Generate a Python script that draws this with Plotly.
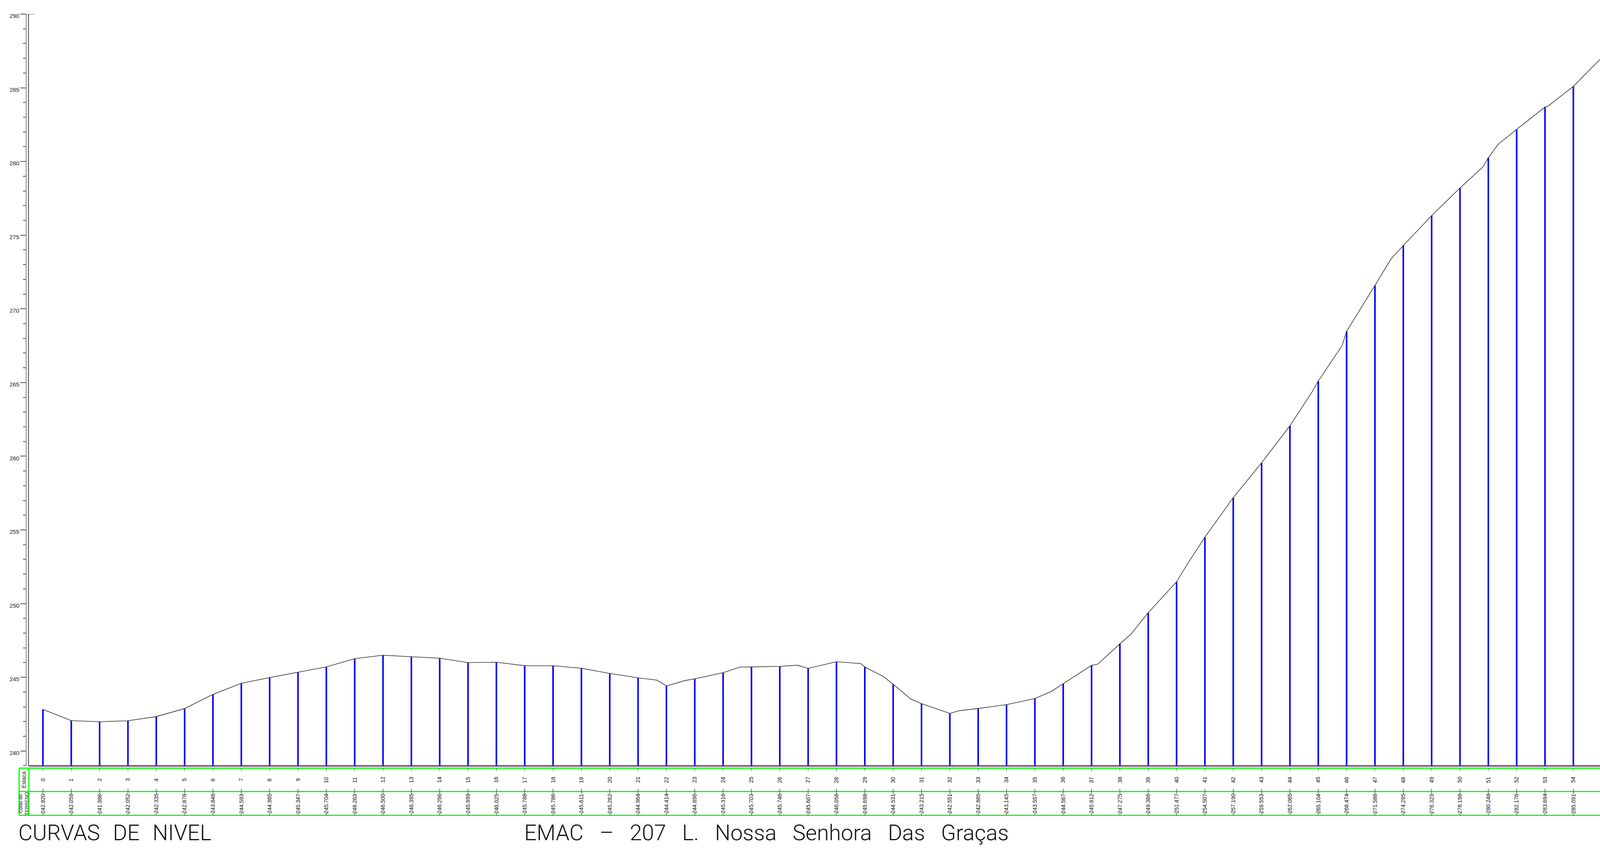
import plotly.graph_objects as go

# ---------------- data ----------------
stations = list(range(0, 56))
elevations = [
    242.820, 242.059, 241.986, 242.052, 242.335, 242.878, 243.846, 244.593,
    244.985, 245.347, 245.704, 246.263, 246.500, 246.395, 246.296, 245.999,
    246.025, 245.788, 245.786, 245.611, 245.262, 244.964, 244.414, 244.896,
    245.316, 245.703, 245.746, 245.607, 246.058, 245.698, 244.531, 243.215,
    242.551, 242.885, 243.145, 243.557, 244.567, 245.812, 247.275, 249.386,
    251.477, 254.507, 257.190, 259.553, 262.065, 265.104, 268.474, 271.588,
    274.295, 276.323, 278.198, 280.248, 282.176, 283.694, 285.091, 287.035,
]
# intermediate break points of the terrain line (station units, elevation)
break_x = [21.66, 22.66, 24.61, 26.62, 28.86, 29.65, 30.62, 32.35, 35.59,
           37.22, 38.38, 40.37, 44.79, 45.84, 47.57, 50.81, 51.35, 53.09]
break_elev = [244.81, 244.78, 245.70, 245.82, 245.93, 245.06, 243.53, 242.74,
              244.05, 245.89, 247.90, 252.65, 264.39, 267.50, 273.40, 279.63,
              281.17, 283.73]

title_left = " \u00a0\u200a".join(["CURVAS", "DE", "NIVEL"])
title_main = " \u00a0\u00a0".join(["EMAC", "\u2013", "207", "L.", "Nossa", "Senhora", "Das", "Gra\u00e7as"])
header_station = "Estaca"
header_elev = "Cotas do<br>TERRENO"

# ---------------- geometry (reference pixel frame -> paper fractions) ----------------
W, H = 4268, 2175
def fx(p):
    return p / W
def fy(p):
    return 1 - p / H

X0_PX, DX_PX = 114.5, 75.6      # pixel of station 0 and pixels per station
PLOT_L, PLOT_T, PLOT_B = 76, 32, 1959
x_lo = (PLOT_L - X0_PX) / DX_PX
x_hi = (W - X0_PX) / DX_PX

pts = sorted(list(zip(stations, elevations)) + list(zip(break_x, break_elev)))
prof_x = [p[0] for p in pts]
prof_y = [p[1] for p in pts]

fig = go.Figure()
fig.add_trace(go.Bar(x=stations, y=elevations, width=0.055,
                     marker=dict(color="#0000FF", line=dict(width=0)),
                     hoverinfo="skip"))
fig.add_trace(go.Scatter(x=prof_x, y=prof_y, mode="lines",
                         line=dict(color="#303030", width=1.6),
                         hoverinfo="skip"))

shapes = []
GREEN = "#00FF00"
# inner axis line
shapes.append(dict(type="line", xref="paper", yref="y", x0=fx(76), x1=fx(76),
                   y0=239, y1=290, line=dict(color="black", width=1.5)))
# top tick extension
shapes.append(dict(type="line", xref="paper", yref="y", x0=fx(56), x1=fx(92),
                   y0=290, y1=290, line=dict(color="#555555", width=1.5)))
# thin grey line just above the base line
shapes.append(dict(type="line", xref="paper", yref="paper", x0=fx(76), x1=1.0,
                   y0=fy(1957), y1=fy(1957), line=dict(color="#A0A0A0", width=1)))
# table borders
for yy in (1965, 2025, 2086):
    shapes.append(dict(type="line", xref="paper", yref="paper", x0=fx(51), x1=1.0,
                       y0=fy(yy), y1=fy(yy), line=dict(color=GREEN, width=3)))
for xx in (51, 77):
    shapes.append(dict(type="line", xref="paper", yref="paper", x0=fx(xx), x1=fx(xx),
                       y0=fy(1965), y1=fy(2086), line=dict(color=GREEN, width=3)))
# station ticks in the table
for s in stations:
    for a, b in ((1966, 1972), (2018, 2032), (2079, 2086)):
        shapes.append(dict(type="line", xref="x", yref="paper", x0=s, x1=s,
                           y0=fy(a), y1=fy(b), line=dict(color="#333333", width=1.2)))

ann = []
TF = dict(family="Liberation Sans", size=14, color="#111111")
for s, e in zip(stations, elevations):
    ann.append(dict(x=s, y=fy(1995), xref="x", yref="paper", text=str(s),
                    textangle=-90, showarrow=False, xanchor="center", yanchor="middle",
                    font=TF))
    ann.append(dict(x=s, y=fy(2056), xref="x", yref="paper", text=f"{e:.3f}",
                    textangle=-90, showarrow=False, xanchor="center", yanchor="middle",
                    font=TF))
ann.append(dict(x=fx(64), y=fy(1995), xref="paper", yref="paper", text=header_station,
                textangle=-90, showarrow=False, xanchor="center", yanchor="middle",
                font=TF))
ann.append(dict(x=fx(64), y=fy(2056), xref="paper", yref="paper", text=header_elev,
                textangle=-90, showarrow=False, xanchor="center", yanchor="middle",
                font=dict(family="Liberation Sans", size=12, color="#111111")))
BIG = dict(family="Roboto", size=56, color="#111111", weight=300)
ann.append(dict(x=fx(47), y=fy(2131), xref="paper", yref="paper", text=title_left,
                showarrow=False, xanchor="left", yanchor="middle", font=BIG))
ann.append(dict(x=fx(1396), y=fy(2131), xref="paper", yref="paper", text=title_main,
                showarrow=False, xanchor="left", yanchor="middle", font=BIG))

fig.update_layout(
    autosize=True, margin=dict(l=0, r=0, t=0, b=0, pad=0),
    paper_bgcolor="white", plot_bgcolor="white", showlegend=False,
    shapes=shapes, annotations=ann,
    xaxis=dict(domain=[fx(PLOT_L), 1.0], range=[x_lo, x_hi], showgrid=False,
               zeroline=False, showticklabels=False, ticks="", showline=True,
               linecolor="black", linewidth=1.5),
    yaxis=dict(domain=[fy(PLOT_B), fy(PLOT_T)], range=[239, 290], anchor="free",
               position=fx(70), showgrid=False, zeroline=False, showline=True,
               linecolor="#808080", linewidth=1.5, ticks="outside", ticklen=14,
               tickwidth=1.5, tickcolor="#555555", tick0=240, dtick=5,
               ticklabelshift=5,
               tickfont=dict(family="Liberation Sans", size=15, color="#222222"),
               minor=dict(dtick=1, tick0=240, ticks="outside", ticklen=7,
                          tickwidth=1.5, tickcolor="#555555")),
)

post = ("document.body.style.margin='0';document.body.style.padding='0';"
        "document.body.style.overflow='hidden';"
        "Plotly.Plots.resize(document.getElementById('{plot_id}'));")
fig.write_html("out.html", default_width="100vw", default_height="100vh",
               post_script=post, config={"responsive": True, "displayModeBar": False})
